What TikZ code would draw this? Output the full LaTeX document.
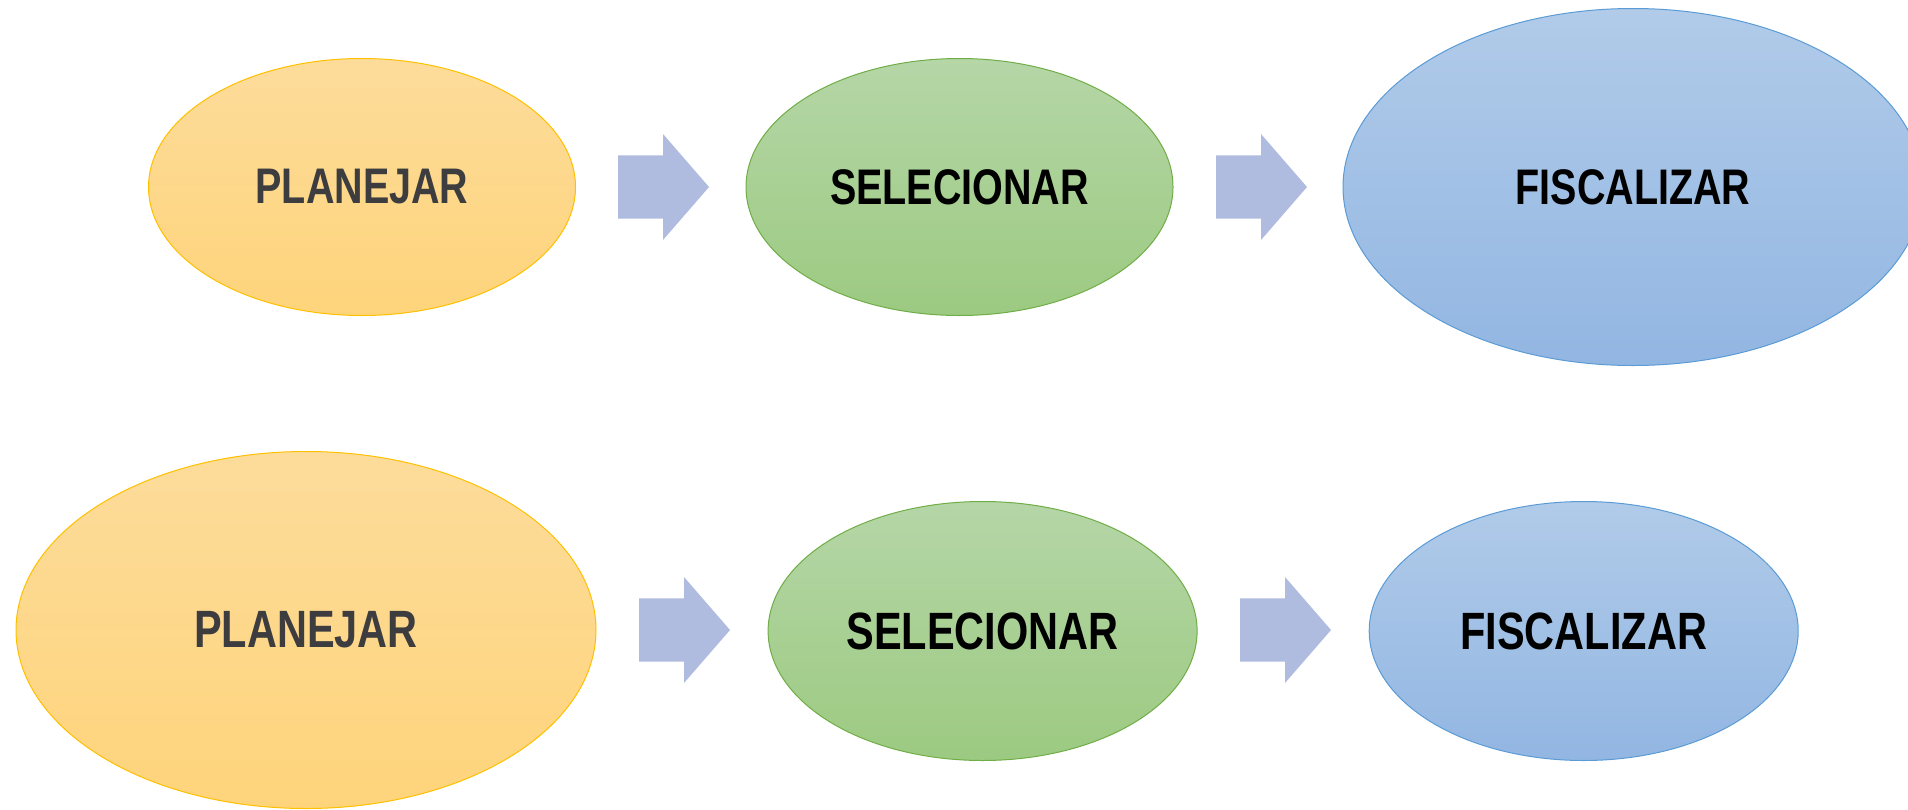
\documentclass[tikz,border=0pt]{standalone}
\usepackage{fontspec}
\setmainfont{Liberation Sans}
\usetikzlibrary{shapes.geometric}
\definecolor{yelT}{HTML}{FDDC9B}
\definecolor{yelB}{HTML}{FED47B}
\definecolor{yelD}{HTML}{FFC000}
\definecolor{grnT}{HTML}{B5D6A7}
\definecolor{grnB}{HTML}{9CCA81}
\definecolor{grnD}{HTML}{70AD47}
\definecolor{bluT}{HTML}{B1CBE9}
\definecolor{bluB}{HTML}{92B6E2}
\definecolor{bluD}{HTML}{5B9BD5}
\definecolor{arrF}{HTML}{AFBCDF}
\definecolor{txtG}{HTML}{3D3D3F}
\tikzset{
  stage/.style={ellipse, inner sep=0pt, line width=1pt, font=\fontsize{50}{58}\selectfont\bfseries},
  big/.style={font=\fontsize{52.5}{60}\selectfont\bfseries},
  yel/.style={stage, draw=yelD, top color=yelT, bottom color=yelB, text=txtG},
  grn/.style={stage, draw=grnD, top color=grnT, bottom color=grnB, text=black},
  blu/.style={stage, draw=bluD, top color=bluT, bottom color=bluB, text=black},
  fatarrow/.pic={\fill[arrF] (0,-31.7) -- (45,-31.7) -- (45,-53) -- (91,0) -- (45,53) -- (45,31.7) -- (0,31.7) -- cycle;}
}
\newcommand{\lbl}[1]{\scalebox{0.79}[1]{#1}}
\begin{document}
\begin{tikzpicture}[x=1pt,y=-1pt]
\useasboundingbox (0,0) rectangle (1908,809);
\clip (0,0) rectangle (1908,809);
% top row
\node[yel, minimum width=427pt, minimum height=257pt] (p1) at (362,187) {\lbl{PLANEJAR}};
\node[grn, minimum width=427pt, minimum height=257pt] (s1) at (959.5,187) {\lbl{SELECIONAR}};
\node[blu, minimum width=580pt, minimum height=357pt] (f1) at (1633,187) {\lbl{FISCALIZAR}};
\pic at (618,187) {fatarrow};
\pic at (1216,187) {fatarrow};
% bottom row
\node[yel, big, minimum width=580pt, minimum height=357pt] (p2) at (306,630) {\lbl{PLANEJAR}};
\node[grn, big, minimum width=429pt, minimum height=259pt] (s2) at (982.6,631) {\lbl{SELECIONAR}};
\node[blu, big, minimum width=429pt, minimum height=259pt] (f2) at (1583.7,631) {\lbl{FISCALIZAR}};
\pic at (639,630) {fatarrow};
\pic at (1240,630) {fatarrow};
\end{tikzpicture}
\end{document}
